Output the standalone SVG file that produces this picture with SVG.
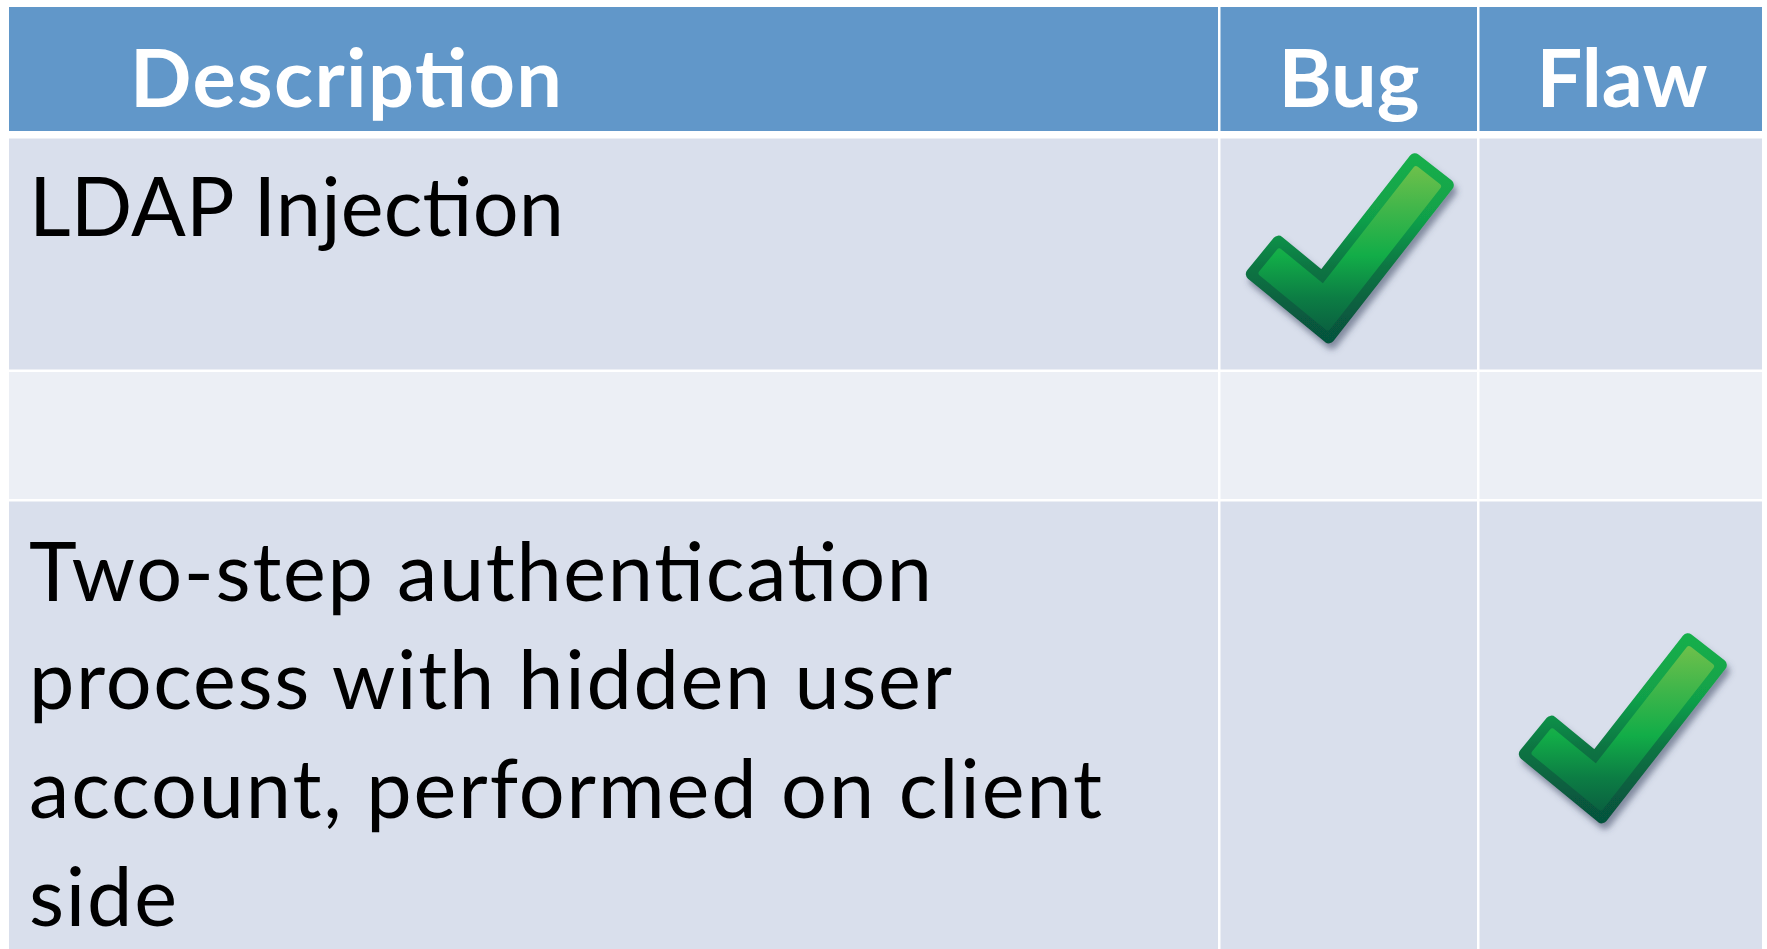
<svg xmlns="http://www.w3.org/2000/svg" xmlns:xlink="http://www.w3.org/1999/xlink" width="1767" height="949" viewBox="0 0 1767 949">
  <style>
    .head { fill: #6197c9; }
    .band { fill: #d9dfec; }
    .plain { fill: #eceff5; }
    .th { font-family: Lato, "Noto Sans", sans-serif; font-weight: 700; font-size: 81px; fill: #ffffff; }
    .td { font-family: Lato, "Noto Sans", sans-serif; font-weight: 400; font-size: 81px; fill: #000000; }
  </style>
  <defs>
    <linearGradient id="rimGrad" gradientUnits="userSpaceOnUse" x1="0" y1="2" x2="0" y2="194">
      <stop offset="0" stop-color="#16b04b"/>
      <stop offset="0.35" stop-color="#11a04a"/>
      <stop offset="0.6" stop-color="#0b7543"/>
      <stop offset="0.85" stop-color="#075a3f"/>
      <stop offset="1" stop-color="#06533c"/>
    </linearGradient>
    <linearGradient id="faceGrad" gradientUnits="userSpaceOnUse" x1="0" y1="12" x2="0" y2="182">
      <stop offset="0" stop-color="#72c14b"/>
      <stop offset="0.3" stop-color="#3cb54a"/>
      <stop offset="0.55" stop-color="#12ad48"/>
      <stop offset="0.8" stop-color="#0c7d44"/>
      <stop offset="1" stop-color="#0a6040"/>
    </linearGradient>
    <filter id="dropShadow" x="-20%" y="-20%" width="140%" height="140%">
      <feGaussianBlur in="SourceAlpha" stdDeviation="3"/>
      <feOffset dx="3" dy="6" result="blur"/>
      <feFlood flood-color="#3a4560" flood-opacity="0.55"/>
      <feComposite in2="blur" operator="in"/>
      <feMerge>
        <feMergeNode/>
        <feMergeNode in="SourceGraphic"/>
      </feMerge>
    </filter>
    <!-- tick mark, local origin at its bounding corner -->
    <g id="tick">
      <polygon points="11.8,124 38.4,91.6 82.2,127.6 174.8,9.3 207.8,35.1 88.8,187.4" fill="url(#rimGrad)" stroke="url(#rimGrad)" stroke-width="12" stroke-linejoin="round" filter="url(#dropShadow)"/>
      <polygon points="21.6,123.1 39.4,101.5 83.3,137.6 176,19.1 198,36.3 87.7,177.4" fill="url(#faceGrad)" stroke="url(#faceGrad)" stroke-width="6" stroke-linejoin="round"/>
    </g>
  </defs>

  <rect width="1767" height="949" fill="#ffffff"/>

  <!-- header row -->
  <g id="header">
    <rect class="head" x="9" y="7" width="1209" height="124"/>
    <rect class="head" x="1220.5" y="7" width="256.5" height="124"/>
    <rect class="head" x="1479.5" y="7" width="282.5" height="124"/>
    <text class="th" x="130" y="106.7" textLength="432" lengthAdjust="spacing">Description</text>
    <text class="th" x="1349" y="106.7" text-anchor="middle">Bug</text>
    <text class="th" x="1622" y="106.7" text-anchor="middle">Flaw</text>
  </g>

  <!-- row 1 -->
  <g id="row-ldap">
    <rect class="band" x="9" y="138.5" width="1209" height="231"/>
    <rect class="band" x="1220.5" y="138.5" width="256.5" height="231"/>
    <rect class="band" x="1479.5" y="138.5" width="282.5" height="231"/>
    <text class="td" x="29" y="236" textLength="535" lengthAdjust="spacing">LDAP Injection</text>
    <use xlink:href="#tick" href="#tick" transform="translate(1240,150)"/>
  </g>

  <!-- row 2 (empty) -->
  <g id="row-empty">
    <rect class="plain" x="9" y="372" width="1209" height="127"/>
    <rect class="plain" x="1220.5" y="372" width="256.5" height="127"/>
    <rect class="plain" x="1479.5" y="372" width="282.5" height="127"/>
  </g>

  <!-- row 3 -->
  <g id="row-twostep">
    <rect class="band" x="9" y="501.5" width="1209" height="447.5"/>
    <rect class="band" x="1220.5" y="501.5" width="256.5" height="447.5"/>
    <rect class="band" x="1479.5" y="501.5" width="282.5" height="447.5"/>
    <text class="td" x="29" y="601" textLength="903" lengthAdjust="spacing">Two-step authentication</text>
    <text class="td" x="29" y="709.3" textLength="923" lengthAdjust="spacing">process with hidden user</text>
    <text class="td" x="29" y="817.7" textLength="1073" lengthAdjust="spacing">account, performed on client</text>
    <text class="td" x="29" y="926" textLength="148" lengthAdjust="spacing">side</text>
    <use xlink:href="#tick" href="#tick" transform="translate(1513,630)"/>
  </g>

  <g id="connectors"/>
</svg>
